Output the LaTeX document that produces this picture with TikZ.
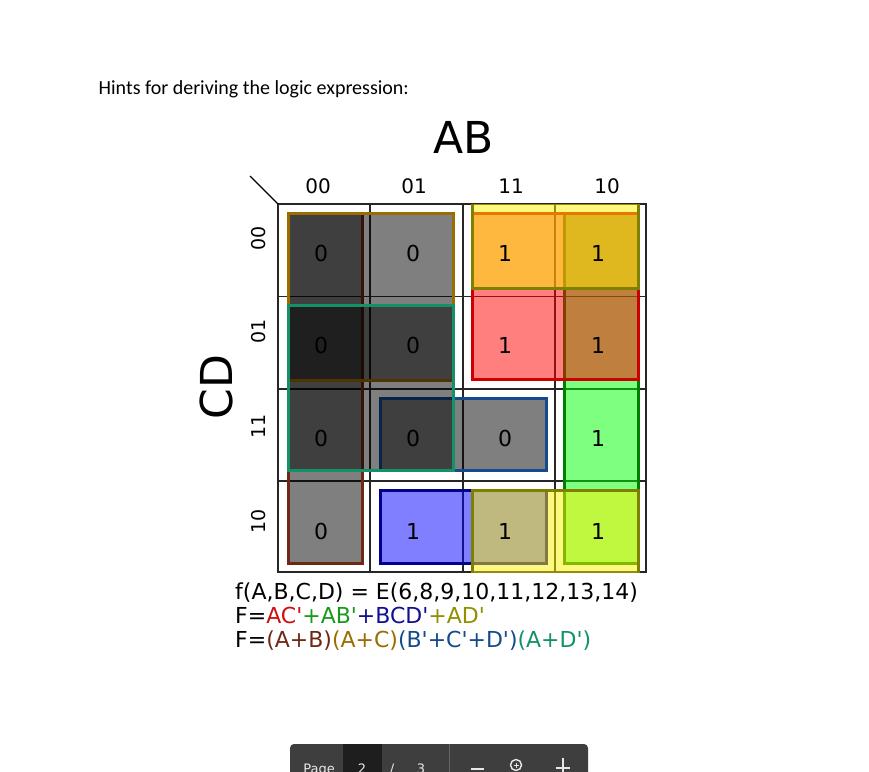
\documentclass[tikz,border=0pt]{standalone}
\usepackage{fontspec}
\setmainfont{DejaVu Sans}[Ligatures=TeXOff]
\newfontfamily\hintfont{Carlito}
\definecolor{cAB}{RGB}{110,40,20}
\definecolor{cAC}{RGB}{155,108,0}
\definecolor{cBCD}{RGB}{20,75,140}
\definecolor{cAD}{RGB}{20,145,105}
\definecolor{oRed}{RGB}{204,0,0}
\definecolor{oGreen}{RGB}{0,128,0}
\definecolor{oNavy}{RGB}{0,0,140}
\definecolor{oOlive}{RGB}{128,128,0}
\definecolor{tRed}{RGB}{204,16,16}
\definecolor{tGreen}{RGB}{26,154,26}
\definecolor{tNavy}{RGB}{16,16,144}
\definecolor{tOlive}{RGB}{144,144,0}
\definecolor{tbbg}{RGB}{62,62,62}
\definecolor{tbdark}{RGB}{30,30,30}
\definecolor{tbtext}{RGB}{232,232,232}
\tikzset{
  gridline/.style={line width=1.3pt, draw=black!85},
  zerogrp/.style={fill=black, fill opacity=0.5, draw opacity=1, line width=3pt},
  onegrp/.style={fill opacity=0.5, draw opacity=1, line width=3pt},
  celltxt/.style={font=\fontsize{22}{26}\selectfont, inner sep=0pt},
  hdr/.style={font=\fontsize{20}{24}\selectfont, inner sep=0pt},
  rowlbl/.style={font=\fontsize{19}{23}\selectfont, inner sep=0pt, rotate=90},
  bigvar/.style={font=\fontsize{44}{50}\selectfont, inner sep=0pt},
  formula/.style={font=\fontsize{22}{26}\selectfont, inner sep=0pt, anchor=base west},
  tbtxt/.style={font=\fontsize{13}{15}\selectfont, text=tbtext, inner sep=0pt, anchor=base},
}
\begin{document}
\begin{tikzpicture}[x=1pt,y=-1pt]
\useasboundingbox (0,0) rectangle (869,771);
\clip (0,0) rectangle (869,771);
\fill[white] (0,0) rectangle (869,771);

% heading
\node[font=\hintfont\fontsize{20}{24}\selectfont, inner sep=0pt, anchor=base west] (hint) at (98.5,94) {Hints for deriving the logic expression:};

% grid
\coordinate (gtl) at (278,204);
\coordinate (diag) at (250,176);
\draw[gridline] (278,204) rectangle (646,572);
\foreach \x in {370,463,555} \draw[gridline] (\x,204) -- (\x,572);
\foreach \y in {296.5,389,481} \draw[gridline] (278,\y) -- (646,\y);
\draw[line width=1.3pt] (diag) -- (gtl);

% zero groups
\filldraw[zerogrp, draw=cAB] (288,213) rectangle (362,563);
\filldraw[zerogrp, draw=cAC] (288,213) rectangle (453,380);
\filldraw[zerogrp, draw=cBCD] (380,398) rectangle (546,470);
\filldraw[zerogrp, draw=cAD] (288,305) rectangle (453,470);

% one groups
\filldraw[onegrp, fill=green, draw=oGreen] (564,213) rectangle (638,563);
\filldraw[onegrp, fill=red, draw=oRed] (472,213) rectangle (638,379);
\filldraw[onegrp, fill=blue, draw=oNavy] (380,490) rectangle (546,563);
\fill[yellow, fill opacity=0.5] (472,204) rectangle (638,288);
\draw[oOlive, line width=3pt] (472,204) -- (472,288) -- (638,288) -- (638,204);
\fill[yellow, fill opacity=0.5] (472,490) rectangle (638,573);
\draw[oOlive, line width=3pt] (472,573) -- (472,490) -- (638,490) -- (638,573);

% labels
\node[bigvar] (AB) at (463.5,137) {AB};
\node[bigvar, rotate=90] (CD) at (216,387) {CD};
\node[hdr] (h00) at (318,186.5) {00};
\node[hdr] (h01) at (414,186.5) {01};
\node[hdr] (h11) at (511,186.5) {11};
\node[hdr] (h10) at (607,186.5) {10};
\node[rowlbl] (r00) at (258.5,238) {00};
\node[rowlbl] (r01) at (258.5,331) {01};
\node[rowlbl] (r11) at (258.5,426) {11};
\node[rowlbl] (r10) at (258.5,521) {10};

% cell values
\foreach \v [count=\i] in {0,0,1,1}{
  \pgfmathsetmacro{\xx}{{321,413,505,598}[\i-1]}
  \node[celltxt] (ca\i) at (\xx,253.5) {\v};}
\foreach \v [count=\i] in {0,0,1,1}{
  \pgfmathsetmacro{\xx}{{321,413,505,598}[\i-1]}
  \node[celltxt] (cb\i) at (\xx,345) {\v};}
\foreach \v [count=\i] in {0,0,0,1}{
  \pgfmathsetmacro{\xx}{{321,413,505,598}[\i-1]}
  \node[celltxt] (cc\i) at (\xx,438.5) {\v};}
\foreach \v [count=\i] in {0,1,1,1}{
  \pgfmathsetmacro{\xx}{{321,413,505,598}[\i-1]}
  \node[celltxt] (cd\i) at (\xx,531.5) {\v};}

% formulas
\node[formula] (f1) at (235,599) {f(A,B,C,D) = E(6,8,9,10,11,12,13,14)};
\node[formula] (f2) at (235,623) {F=\textcolor{tRed}{AC'}\textcolor{tGreen}{+AB'}\textcolor{tNavy}{+BCD'}\textcolor{tOlive}{+AD'}};
\node[formula] (f3) at (235,647) {F=\textcolor{cAB}{(A+B)}\textcolor{cAC}{(A+C)}\textcolor{cBCD}{(B'+C'+D')}\textcolor{cAD}{(A+D')}};

% toolbar
\fill[tbbg, rounded corners=4pt] (290,744) rectangle (588,800);
\fill[tbdark] (343,744) rectangle (382,800);
\draw[black!60, line width=1pt] (449,744) -- (449,800);
\node[tbtxt] (tpage) at (319,773) {Page};
\node[tbtxt] (tnum) at (362,773) {2};
\node[tbtxt] (tsl) at (392,773) {/};
\node[tbtxt] (ttot) at (421,773) {3};
\draw[tbtext, line width=1.5pt] (471,769) -- (484,769);
\draw[tbtext, line width=1.4pt] (516,765) circle (5.5);
\draw[tbtext, line width=1pt] (513.5,765) -- (518.5,765) (516,762.5) -- (516,767.5);
\draw[tbtext, line width=1.5pt] (556,768) -- (570,768) (563,758) -- (563,778);
\end{tikzpicture}
\end{document}
